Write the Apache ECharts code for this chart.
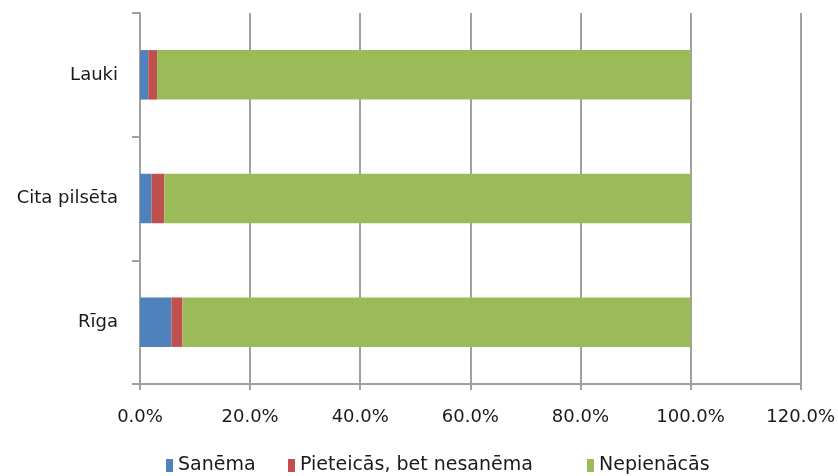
<!DOCTYPE html>
<html>
<head>
<meta charset="utf-8">
<script src="https://cdn.jsdelivr.net/npm/echarts@6/dist/echarts.min.js"></script>
<style>
  html, body { margin: 0; padding: 0; background: #ffffff; }
  #chart { width: 838px; height: 476px; }
</style>
</head>
<body>
<div id="chart"></div>
<script>
// Categories listed bottom-to-top, as the value axis is horizontal
const categories = ['Rīga', 'Cita pilsēta', 'Lauki'];
const seriesNames = ['Sanēma', 'Pieteicās, bet nesanēma', 'Nepienācās'];
const sanema = [5.7, 2.1, 1.5];
const pieteicas = [2.0, 2.3, 1.6];
const nepienacas = [92.3, 95.6, 96.9];
const xTicks = [0, 20, 40, 60, 80, 100, 120];

const colors = ['#4f81bd', '#c0504d', '#9bbb59'];
const fontFamily = '"DejaVu Sans", sans-serif';
const axisGray = '#a0a0a0';
const textColor = '#1a1a1a';

const chart = echarts.init(document.getElementById('chart'), null, { renderer: 'canvas' });

const values = [sanema, pieteicas, nepienacas];
const series = seriesNames.map((name, i) => ({
  name: name,
  type: 'bar',
  stack: 'total',
  barWidth: '40%',
  data: values[i],
  itemStyle: { color: colors[i] },
  emphasis: { disabled: true }
}));

// One legend entry per series, laid out along the bottom row
const legendLeft = [166, 288, 587];
const legends = seriesNames.map((name, i) => ({
  top: 456,
  left: legendLeft[i],
  padding: 0,
  itemWidth: 7,
  itemHeight: 13,
  icon: 'rect',
  selectedMode: false,
  textStyle: { fontSize: 19, color: textColor, fontFamily: fontFamily },
  data: [name]
}));

chart.setOption({
  animation: false,
  textStyle: { fontFamily: fontFamily },
  color: colors,
  grid: { left: 140, right: 37, top: 13, bottom: 92, containLabel: false },
  xAxis: {
    type: 'value',
    min: xTicks[0],
    max: xTicks[xTicks.length - 1],
    interval: 20,
    axisLine: { show: true, lineStyle: { color: axisGray, width: 2 } },
    axisTick: { show: true, length: 6, lineStyle: { color: axisGray, width: 2 } },
    splitLine: { show: true, lineStyle: { color: axisGray, width: 2 } },
    axisLabel: {
      margin: 24,
      fontSize: 18,
      color: textColor,
      fontFamily: fontFamily,
      formatter: v => v.toFixed(1) + '%'
    }
  },
  yAxis: {
    type: 'category',
    data: categories,
    axisLine: { show: true, lineStyle: { color: axisGray, width: 2 } },
    axisTick: { show: true, length: 8, alignWithLabel: false, lineStyle: { color: axisGray, width: 2 } },
    splitLine: { show: false },
    axisLabel: {
      margin: 22,
      fontSize: 18,
      color: textColor,
      fontFamily: fontFamily
    }
  },
  legend: legends,
  series: series
});
</script>
</body>
</html>
